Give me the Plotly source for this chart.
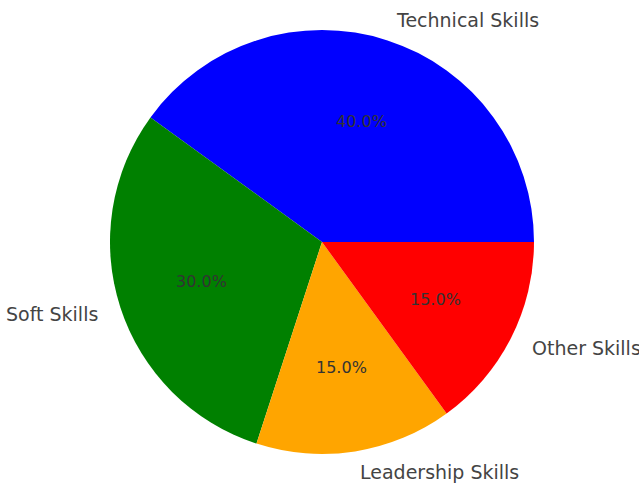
import math
import plotly.graph_objects as go

categories = ["Technical Skills", "Soft Skills", "Leadership Skills", "Other Skills"]
values = [40, 30, 15, 15]
colors = ["blue", "green", "orange", "red"]

W, H = 639, 484
cx, cy, r = 322, 242, 212  # pixel center / radius of the pie

total = sum(values)
# plotly counterclockwise: first slice ends at `rotation`; want it to start at 3 o'clock
rot = 90 - 360 * values[0] / total

fig = go.Figure(go.Pie(
    labels=categories, values=values, sort=False, direction="counterclockwise",
    rotation=rot, marker=dict(colors=colors, line=dict(width=0)),
    textinfo="none", hoverinfo="label+percent", showlegend=False,
    domain=dict(x=[(cx - r) / W, (cx + r) / W], y=[(H - cy - r) / H, (H - cy + r) / H]),
))

start = 0.0
annotations = []
for cat, v in zip(categories, values):
    frac = v / total
    mid = math.radians((start + frac / 2) * 360)
    start += frac
    c, s = math.cos(mid), math.sin(mid)
    lx, ly = cx + 1.1 * r * c, cy - 1.1 * r * s
    annotations.append(dict(x=lx / W, y=1 - ly / H, xref="paper", yref="paper",
                            text=cat, showarrow=False,
                            xanchor="left" if c > 0 else "right", yanchor="middle",
                            font=dict(family="DejaVu Sans", size=19, color="#444")))
    px, py = cx + 0.6 * r * c, cy - 0.6 * r * s
    annotations.append(dict(x=px / W, y=1 - py / H, xref="paper", yref="paper",
                            text=f"{frac*100:.1f}%", showarrow=False,
                            xanchor="center", yanchor="middle",
                            font=dict(family="DejaVu Sans", size=16, color="#333")))

fig.update_layout(width=W, height=H, margin=dict(l=0, r=0, t=0, b=0),
                  paper_bgcolor="white", plot_bgcolor="white", annotations=annotations)
fig.write_html("out.html")
